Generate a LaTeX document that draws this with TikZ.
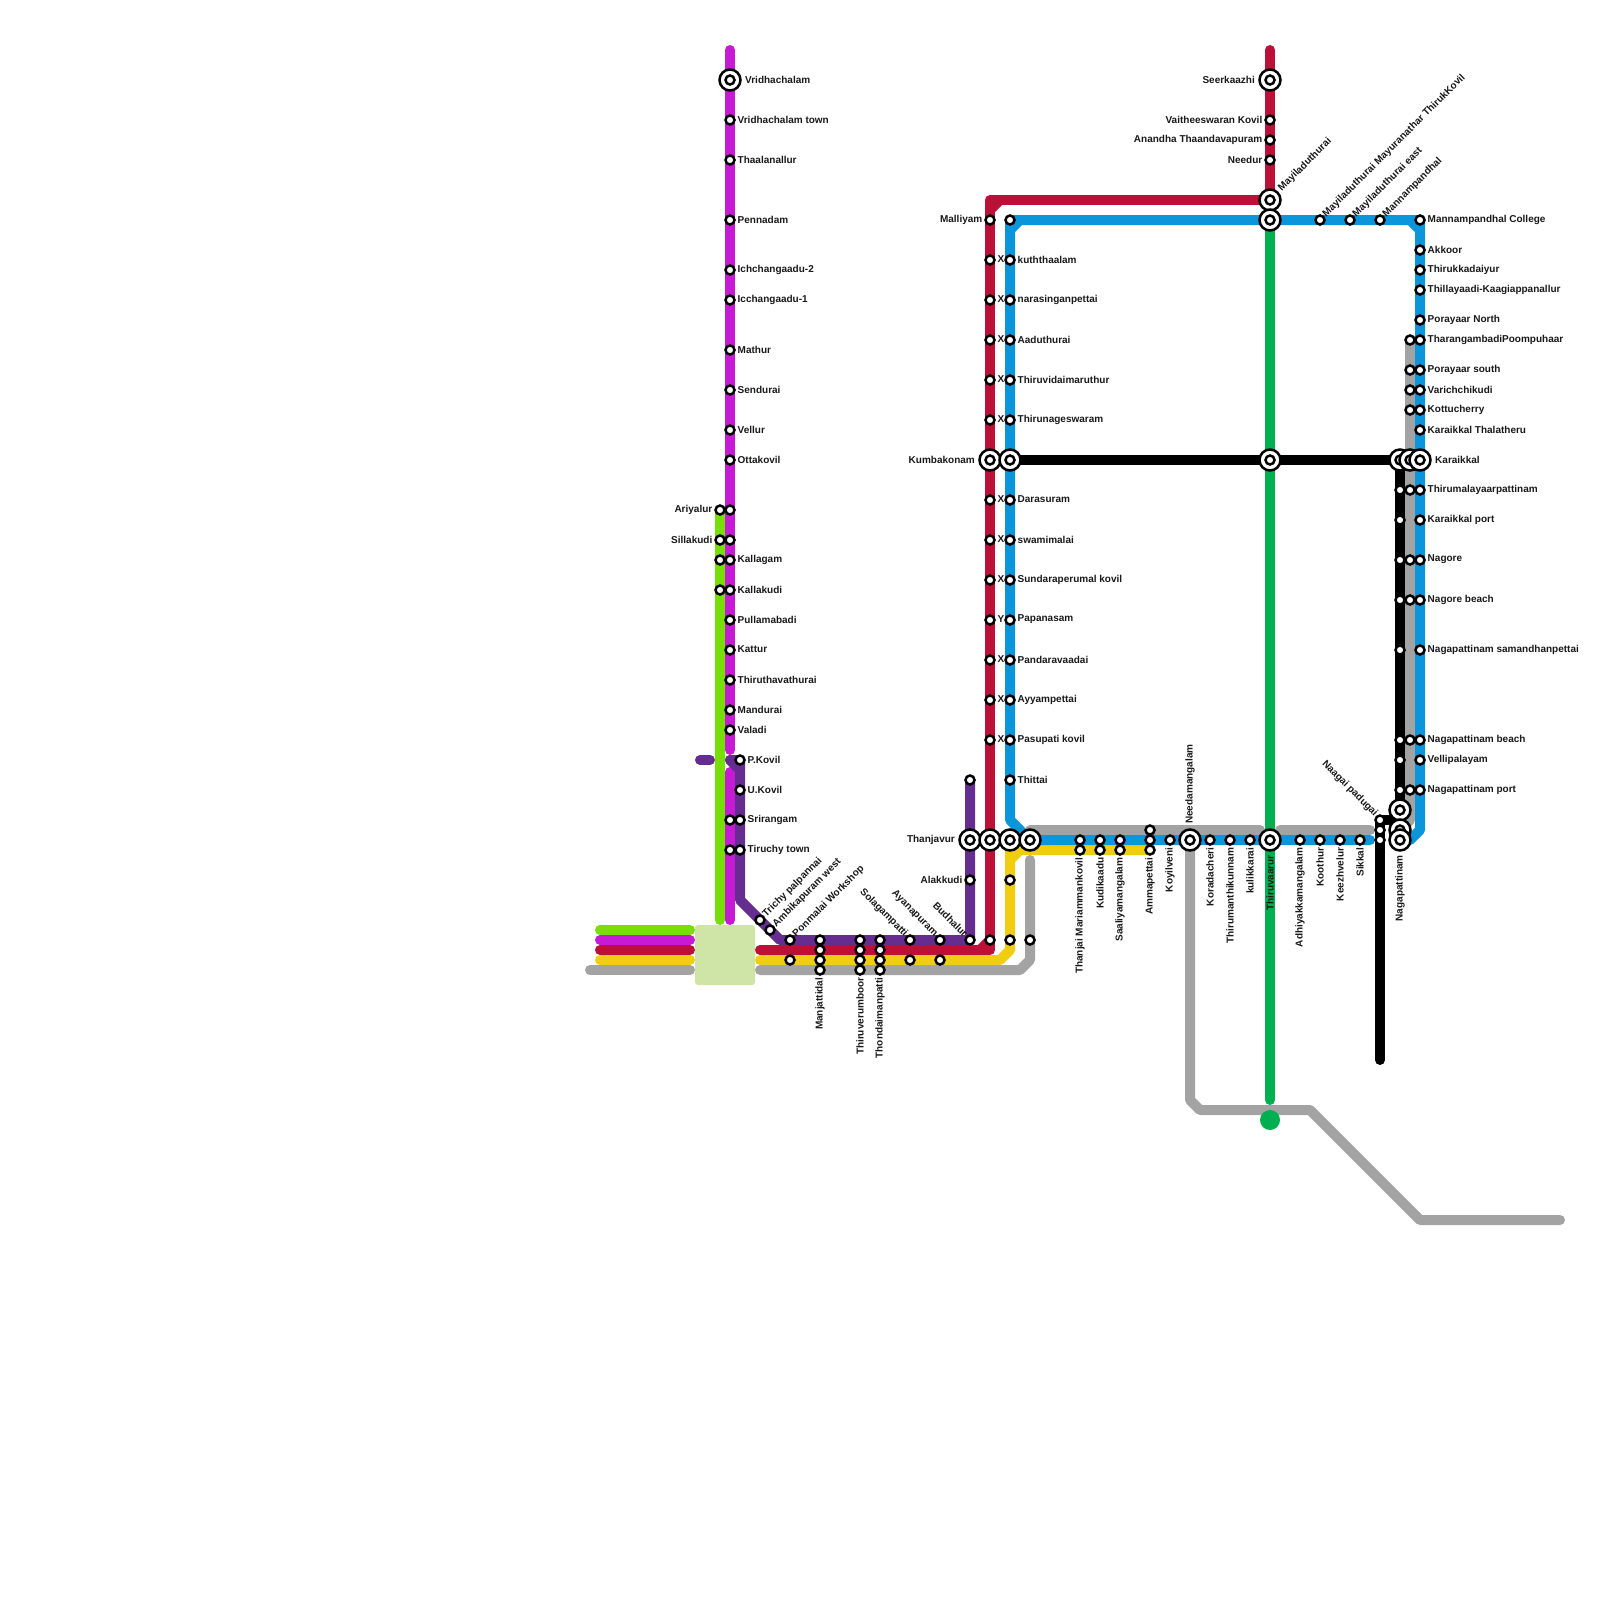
\documentclass[tikz,border=0pt]{standalone}
\usepackage{fontspec}
\setmainfont{Liberation Sans}
\definecolor{magline}{HTML}{C71AD4}
\definecolor{limeline}{HTML}{76DF06}
\definecolor{redline}{HTML}{BD1038}
\definecolor{yelline}{HTML}{F1CD10}
\definecolor{grayline}{HTML}{A3A3A3}
\definecolor{blueline}{HTML}{0B96DB}
\definecolor{purpline}{HTML}{662D91}
\definecolor{greenline}{HTML}{00B050}
\definecolor{parkfill}{HTML}{CFE4A7}
\tikzset{
  metro/.style={line width=10pt,line cap=round,line join=round},
  stn/.style={circle,draw=black,fill=white,line width=2.5pt,inner sep=0pt,outer sep=0pt,minimum size=9pt},
  hub/.style={circle,draw=black,fill=white,line width=2.5pt,inner sep=0pt,outer sep=0pt,minimum size=21pt},
  lab/.style={inner sep=0pt,font=\fontsize{10}{12}\selectfont\bfseries,text=black!90},
  labr/.style={lab,anchor=west,xshift=7.5pt,yshift=.5pt},
  labl/.style={lab,anchor=east,xshift=-7.5pt,yshift=.5pt},
  labd/.style={lab,anchor=east,yshift=-7.5pt,rotate=90},
  labu/.style={lab,anchor=west,yshift=4.5pt,xshift=4.5pt,rotate=45},
  labn/.style={lab,anchor=east,yshift=5pt,xshift=-4pt,rotate=-45}
}
\begin{document}
\begin{tikzpicture}[x=1pt,y=-1pt]
  \useasboundingbox (0,0) rectangle (1600,1600);

  % Stubs and park
  \fill[parkfill,rounded corners=3pt] (695,925) rectangle (755,985);
  \draw[metro,limeline] (600,930) -- (690,930);
  \draw[metro,magline] (600,940) -- (690,940);
  \draw[metro,redline] (600,950) -- (690,950);
  \draw[metro,yelline] (600,960) -- (690,960);
  \draw[metro,grayline] (590,970) -- (690,970);
  \draw[metro,purpline] (700,760) -- (710,760);

  % Gray
  \draw[metro,grayline] (760,970) -- (1020,970) -- (1030,960) -- (1030,860);
  \draw[metro,grayline] (1030,830) -- (1260,830);
  \draw[metro,grayline] (1280,830) -- (1370,830);
  \draw[metro,grayline] (1410,340) -- (1410,820) -- (1400,830);
  \draw[metro,grayline] (1190,840) -- (1190,1100) -- (1200,1110) -- (1310,1110)
    -- (1420,1220) -- (1560,1220);

  % Yellow
  \draw[metro,yelline] (760,960) -- (1000,960) -- (1010,950) -- (1010,850) -- (1150,850);
  \draw[metro,yelline] (1010,860) -- (1020,850);

  % Magenta and lime
  \draw[metro,limeline] (720,510) -- (720,920);
  \draw[metro,magline] (730,50) -- (730,750);
  \draw[metro,magline] (730,772) -- (730,920);

  % Purple
  \draw[metro,purpline] (730,760) -- (740,760) -- (740,900) -- (780,940) -- (970,940) -- (970,780);
  \draw[metro,purpline] (730,760) -- (740,770);

  % Crimson
  \draw[metro,redline] (760,950) -- (990,950) -- (990,200) -- (1270,200);
  \draw[metro,redline] (980,950) -- (990,940);
  \draw[metro,redline] (990,210) -- (1000,200);
  \draw[metro,redline] (1270,50) -- (1270,200);

  % Green
  \draw[metro,greenline] (1270,220) -- (1270,1100);
  \fill[greenline] (1270,1120) circle (10pt);

  % Blue
  \draw[metro,blueline] (1010,220) -- (1420,220) -- (1420,830) -- (1410,840) -- (1400,840);
  \draw[metro,blueline] (1010,230) -- (1020,220);
  \draw[metro,blueline] (1410,220) -- (1420,230);
  \draw[metro,blueline] (1010,220) -- (1010,820) -- (1030,840) -- (1370,840);

  % Black
  \draw[metro,black] (1010,460) -- (1400,460) -- (1400,820) -- (1380,820) -- (1380,1060);

  % Stations along the left trunk
  \foreach \yy/\txt in {120/Vridhachalam town,160/Thaalanallur,220/Pennadam,270/Ichchangaadu-2,
      300/Icchangaadu-1,350/Mathur,390/Sendurai,430/Vellur,460/Ottakovil,560/Kallagam,590/Kallakudi,
      620/Pullamabadi,650/Kattur,680/Thiruthavathurai,710/Mandurai,730/Valadi}{
    \node[stn] (mag\yy) at (730,\yy) {};
    \node[labr] (magl\yy) at (mag\yy) {\txt};
  }
  \foreach \yy in {510,540,820,850}{
    \node[stn] (mag\yy) at (730,\yy) {};
  }
  \foreach \yy/\txt in {510/Ariyalur,540/Sillakudi,560/{},590/{}}{
    \node[stn] (lim\yy) at (720,\yy) {};
    \node[labl] (liml\yy) at (lim\yy) {\txt};
  }
  \foreach \yy/\txt in {760/P.Kovil,790/U.Kovil,820/Srirangam,850/Tiruchy town}{
    \node[stn] (pur\yy) at (740,\yy) {};
    \node[labr] (purl\yy) at (pur\yy) {\txt};
  }

  % Diagonal branch
  \foreach \xx/\yy/\txt in {760/920/Trichy palpannai,770/930/Ambikapuram west,790/940/Ponmalai Workshop}{
    \node[stn] (dia\xx) at (\xx,\yy) {};
    \node[labu] (dial\xx) at (dia\xx) {\txt};
  }

  % Bottom row
  \foreach \xx/\txt in {820/Manjattidal,860/Thiruverumboor,880/Thondaimanpatti}{
    \foreach \yy in {940,950,960,970}{
      \node[stn] (bot\xx-\yy) at (\xx,\yy) {};
    }
    \node[labd] (botl\xx) at (bot\xx-970) {\txt};
  }
  \foreach \xx/\txt in {910/Solagampatti,940/Ayanapuram,970/Budhalur}{
    \node[stn] (top\xx) at (\xx,940) {};
    \node[labn] (topl\xx) at (top\xx) {\txt};
  }
  \foreach \xx in {790,910,940}{
    \node[stn] (yel\xx) at (\xx,960) {};
  }
  \node[stn] (pur780) at (970,780) {};
  \node[stn] (alk) at (970,880) {};
  \node[labl] (alkl) at (alk) {Alakkudi};
  \node[stn] (red940) at (990,940) {};
  \node[stn] (blu940) at (1010,940) {};
  \node[stn] (yel880) at (1010,880) {};
  \node[stn] (gry940) at (1030,940) {};

  % Crimson column
  \foreach \yy/\txt in {260/X,300/X,340/X,380/X,420/X,500/X,540/X,580/X,620/Y,660/X,700/X,740/X}{
    \node[stn] (red\yy) at (990,\yy) {};
    \node[labr] (redl\yy) at (red\yy) {\txt};
  }
  \node[stn] (red220) at (990,220) {};
  \node[labl] (redl220) at (red220) {Malliyam};

  % Blue column
  \foreach \yy/\txt in {260/kuththaalam,300/narasinganpettai,340/Aaduthurai,380/Thiruvidaimaruthur,
      420/Thirunageswaram,500/Darasuram,540/swamimalai,580/Sundaraperumal kovil,620/Papanasam,
      660/Pandaravaadai,700/Ayyampettai,740/Pasupati kovil,780/Thittai}{
    \node[stn] (blu\yy) at (1010,\yy) {};
    \node[labr] (blul\yy) at (blu\yy) {\txt};
  }
  \node[stn] (blu220) at (1010,220) {};

  % Along the bottom blue
  \foreach \xx/\txt in {1080/Thanjai Mariammankovil,1100/Kudikaadu,1120/Saaliyamangalam}{
    \node[stn] (low\xx) at (\xx,840) {};
    \node[stn] (yel\xx) at (\xx,850) {};
    \node[labd] (lowl\xx) at (yel\xx) {\txt};
  }
  \node[stn] (amm830) at (1150,830) {};
  \node[stn] (amm840) at (1150,840) {};
  \node[stn] (amm850) at (1150,850) {};
  \node[labd] (amml) at (amm850) {Ammapettai};
  \foreach \xx/\txt in {1170/Koyilveni,1210/Koradacheri,1230/Thirumanthikunnam,1250/kulikkarai,
      1300/Adhiyakkamangalam,1320/Koothur,1340/Keezhvelur,1360/Sikkal}{
    \node[stn] (low\xx) at (\xx,840) {};
    \node[labd] (lowl\xx) at (low\xx) {\txt};
  }

  % Seerkaazhi branch
  \foreach \yy/\txt in {120/Vaitheeswaran Kovil,140/Anandha Thaandavapuram,160/Needur}{
    \node[stn] (sir\yy) at (1270,\yy) {};
    \node[labl] (sirl\yy) at (sir\yy) {\txt};
  }
  \foreach \xx/\txt in {1320/Mayiladuthurai Mayuranathar ThirukKovil,1350/Mayiladuthurai east,1380/Mannampandhal}{
    \node[stn] (may\xx) at (\xx,220) {};
    \node[labu] (mayl\xx) at (may\xx) {\txt};
  }

  % Right columns
  \foreach \yy in {340,370,390,410,490,560,600,740,790}{
    \node[stn] (gry\yy) at (1410,\yy) {};
  }
  \foreach \yy in {490,520,560,600,650,740,760,790}{
    \node[stn] (blk\yy) at (1400,\yy) {};
  }
  \foreach \yy/\txt in {220/Mannampandhal College,250/Akkoor,270/Thirukkadaiyur,290/Thillayaadi-Kaagiappanallur,
      320/Porayaar North,340/TharangambadiPoompuhaar,370/Porayaar south,390/Varichchikudi,410/Kottucherry,
      430/Karaikkal Thalatheru,490/Thirumalayaarpattinam,520/Karaikkal port,560/Nagore,600/Nagore beach,
      650/Nagapattinam samandhanpettai,740/Nagapattinam beach,760/Vellipalayam,790/Nagapattinam port}{
    \node[stn] (rig\yy) at (1420,\yy) {};
    \node[labr] (rigl\yy) at (rig\yy) {\txt};
  }

  % Nagai cluster
  \node[stn] (nag820) at (1380,820) {};
  \node[stn] (nag830) at (1380,830) {};
  \node[stn] (nag840) at (1380,840) {};
  \node[labn] (nagl) at (nag820) {Naagai padugai};

  % Interchanges
  \foreach \nm/\xx/\yy in {a/730/80,b/970/840,c/990/840,d/1010/840,e/1030/840,f/990/460,g/1010/460,
      h/1190/840,i/1270/80,j/1270/200,k/1270/220,l/1270/460,m/1270/840,n/1400/460,o/1410/460,p/1420/460,
      q/1400/810,r/1400/830,s/1400/840}{
    \node[hub] (hub\nm) at (\xx,\yy) {};
    \node[stn] (core\nm) at (hub\nm) {};
  }
  \node[lab,anchor=west,xshift=15pt,yshift=.5pt] (huba1) at (huba) {Vridhachalam};
  \node[lab,anchor=east,xshift=-15pt,yshift=.5pt] (hubb1) at (hubb) {Thanjavur};
  \node[lab,anchor=east,xshift=-15pt,yshift=.5pt] (hubf1) at (hubf) {Kumbakonam};
  \node[lab,anchor=west,yshift=16pt,rotate=90] (hubh1) at (hubh) {Needamangalam};
  \node[lab,anchor=east,xshift=-15pt,yshift=.5pt] (hubi1) at (hubi) {Seerkaazhi};
  \node[lab,anchor=west,xshift=10pt,yshift=10pt,rotate=45] (hubj1) at (hubj) {Mayiladuthurai};
  \node[lab,anchor=east,yshift=-15pt,rotate=90] (hubm1) at (hubm) {Thiruvaarur};
  \node[lab,anchor=west,xshift=15pt,yshift=.5pt] (hubp1) at (hubp) {Karaikkal};
  \node[lab,anchor=east,yshift=-15pt,rotate=90] (hubs1) at (hubs) {Nagapattinam};
\end{tikzpicture}
\end{document}
